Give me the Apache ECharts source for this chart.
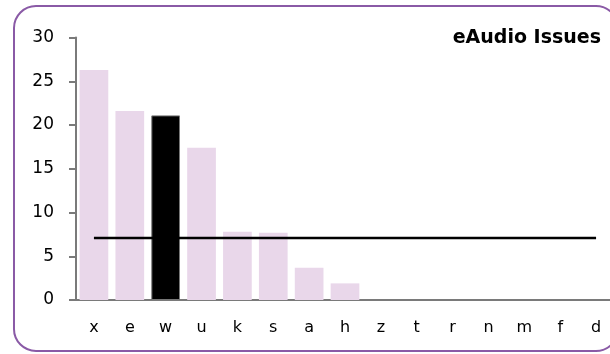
<!DOCTYPE html>
<html>
<head>
<meta charset="utf-8">
<script src="https://cdn.jsdelivr.net/npm/echarts@6/dist/echarts.min.js"></script>
<style>
html,body{margin:0;padding:0;background:#fff;}
#chart{width:610px;height:354px;}
</style>
</head>
<body>
<div id="chart"></div>
<script>
var categories = ['x','e','w','u','k','s','a','h','z','t','r','n','m','f','d'];
var issueCounts = [26.3, 21.6, 21.1, 17.4, 7.8, 7.7, 3.7, 1.9, 0, 0, 0, 0, 0, 0, 0];
var averageLine = [7.1, 7.1, 7.1, 7.1, 7.1, 7.1, 7.1, 7.1, 7.1, 7.1, 7.1, 7.1, 7.1, 7.1, 7.1];
var highlighted = 'w';
var titleText = 'eAudio Issues';

var FONT = 'DejaVu Sans';
var barData = issueCounts.map(function(v, i){
  if (categories[i] === highlighted) {
    return {value: v, itemStyle: {color: '#000000', borderColor: '#777777', borderWidth: 1}};
  }
  return v;
});

var chart = echarts.init(document.getElementById('chart'), null, {renderer: 'canvas'});
chart.setOption({
  animation: false,
  backgroundColor: '#ffffff',
  title: {
    text: titleText,
    right: 4,
    top: 24,
    textStyle: {fontFamily: FONT, fontSize: 19, fontWeight: 'bold', color: '#000'}
  },
  graphic: [{
    type: 'rect',
    shape: {x: 14, y: 6, width: 604, height: 345, r: 22},
    style: {fill: 'none', stroke: '#8a5aa6', lineWidth: 2},
    z: 100,
    silent: true
  }],
  grid: {left: 76, width: 538, top: 37.5, bottom: 54, containLabel: false, outerBoundsMode: 'none'},
  xAxis: {
    type: 'category',
    data: categories,
    axisLine: {lineStyle: {color: '#7a7a7a', width: 2}},
    axisTick: {show: false},
    axisLabel: {fontFamily: FONT, fontSize: 16, color: '#000', margin: 20, interval: 0}
  },
  yAxis: {
    type: 'value',
    min: 0, max: 30, interval: 5,
    splitLine: {show: false},
    axisLine: {show: true, lineStyle: {color: '#7a7a7a', width: 2}},
    axisTick: {show: true, length: 7, lineStyle: {color: '#7a7a7a', width: 2}},
    axisLabel: {fontFamily: FONT, fontSize: 17, color: '#000', margin: 22}
  },
  series: [{
    type: 'bar',
    data: barData,
    barCategoryGap: '20%',
    itemStyle: {color: '#e9d7ea'}
  }, {
    type: 'line',
    data: averageLine,
    symbol: 'none',
    lineStyle: {color: '#000', width: 2.5},
    z: 5
  }]
});
</script>
</body>
</html>
